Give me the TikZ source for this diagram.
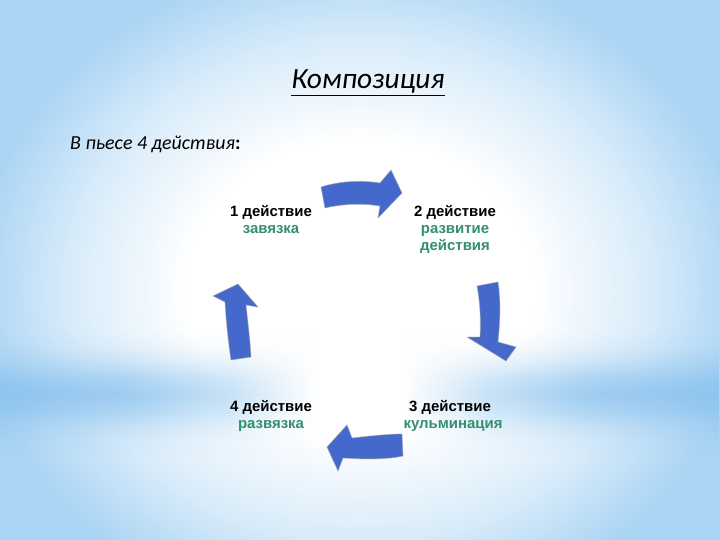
\documentclass[tikz,border=0pt]{standalone}
\usepackage{fontspec}
\setmainfont{Liberation Sans}
\newfontfamily\calfont{Carlito}
\usetikzlibrary{fadings}
\definecolor{bgedge}{RGB}{170,212,244}
\definecolor{bgband}{RGB}{138,194,238}
\definecolor{arrowblue}{RGB}{68,104,204}
\definecolor{stepgreen}{RGB}{52,142,112}
\pgfdeclareradialshading{bgradial}{\pgfpointorigin}{color(0bp)=(white); color(12bp)=(white); color(20bp)=(white!55!bgedge); color(27bp)=(bgedge); color(50bp)=(bgedge)}
\pgfdeclarehorizontalshading{bandshade}{100bp}{color(0bp)=(bgband); color(25bp)=(bgband); color(34bp)=(bgband!90!white); color(41bp)=(bgband!55!white); color(47bp)=(white); color(53bp)=(white); color(59bp)=(bgband!55!white); color(66bp)=(bgband!90!white); color(75bp)=(bgband); color(100bp)=(bgband)}
\pgfdeclareverticalshading{bandfadeshade}{100bp}{color(0bp)=(transparent!100); color(25bp)=(transparent!100); color(31.25bp)=(transparent!90); color(37.5bp)=(transparent!65); color(43.75bp)=(transparent!30); color(50bp)=(transparent!12); color(56.25bp)=(transparent!30); color(62.5bp)=(transparent!65); color(68.75bp)=(transparent!90); color(75bp)=(transparent!100); color(100bp)=(transparent!100)}
\pgfdeclarefading{bandfade}{\pgfuseshading{bandfadeshade}}
\tikzset{
  arrowshape/.style={fill=arrowblue, draw=gray!70, draw opacity=0.6, line width=0.8bp, line join=round},
  headtext/.style={anchor=base, font=\fontsize{15}{17}\selectfont\bfseries, text=black, inner sep=0pt},
  subtext/.style={anchor=base, font=\fontsize{15}{17}\selectfont\bfseries, text=stepgreen, inner sep=0pt}
}
\begin{document}
\begin{tikzpicture}[x=1bp, y=-1bp]
\useasboundingbox (0,0) rectangle (720,540);
% background
\shade[shading=bgradial] (0,-20) rectangle (720,600);
\shade[shading=bandshade, path fading=bandfade] (0,332) rectangle (720,456);
% title
\node[anchor=base, inner sep=0pt, font=\calfont\itshape\fontsize{29.5}{34}\selectfont] (title) at (368,89) {\underline{Композиция}};
\node[anchor=base west, inner sep=0pt, font=\calfont\fontsize{20}{24}\selectfont] (intro) at (70,150) {\itshape В пьесе 4 действия\upshape\bfseries :};
% step texts
\node[headtext] (s1) at (271,217) {1 действие};
\node[subtext] (s1a) at (271,234) {завязка};
\node[headtext] (s2) at (455,217) {2 действие};
\node[subtext] (s2a) at (455,234) {развитие};
\node[subtext] (s2b) at (455,251) {действия};
\node[headtext] (s3) at (450,411) {3 действие};
\node[subtext] (s3a) at (453,428) {кульминация};
\node[headtext] (s4) at (271,411) {4 действие};
\node[subtext] (s4a) at (271,428) {развязка};
% arrows
\draw[arrowshape] (321,187) .. controls (340,181) and (362,180) .. (380,183) -- (391,170) -- (402,193) -- (378,218) -- (380,206) .. controls (362,203) and (342,204) .. (325,208) -- cycle;
\draw[arrowshape] (477,286) -- (498,282) .. controls (501,302) and (500,322) .. (498,342) -- (516,347) -- (506,361) -- (467,337) -- (480,337) .. controls (481,320) and (480,302) .. (477,286) -- cycle;
\draw[arrowshape] (402,434) -- (403,456) .. controls (385,460) and (360,459) .. (343,458) -- (338,471) -- (327,447) -- (347,425) -- (352,438) .. controls (370,436) and (388,434) .. (402,434) -- cycle;
\draw[arrowshape] (238,284) -- (258,307) -- (246,305) .. controls (248,323) and (250,340) .. (251,357) -- (231,360) .. controls (228,340) and (226,320) .. (225,302) -- (213,296) -- cycle;
\end{tikzpicture}
\end{document}
